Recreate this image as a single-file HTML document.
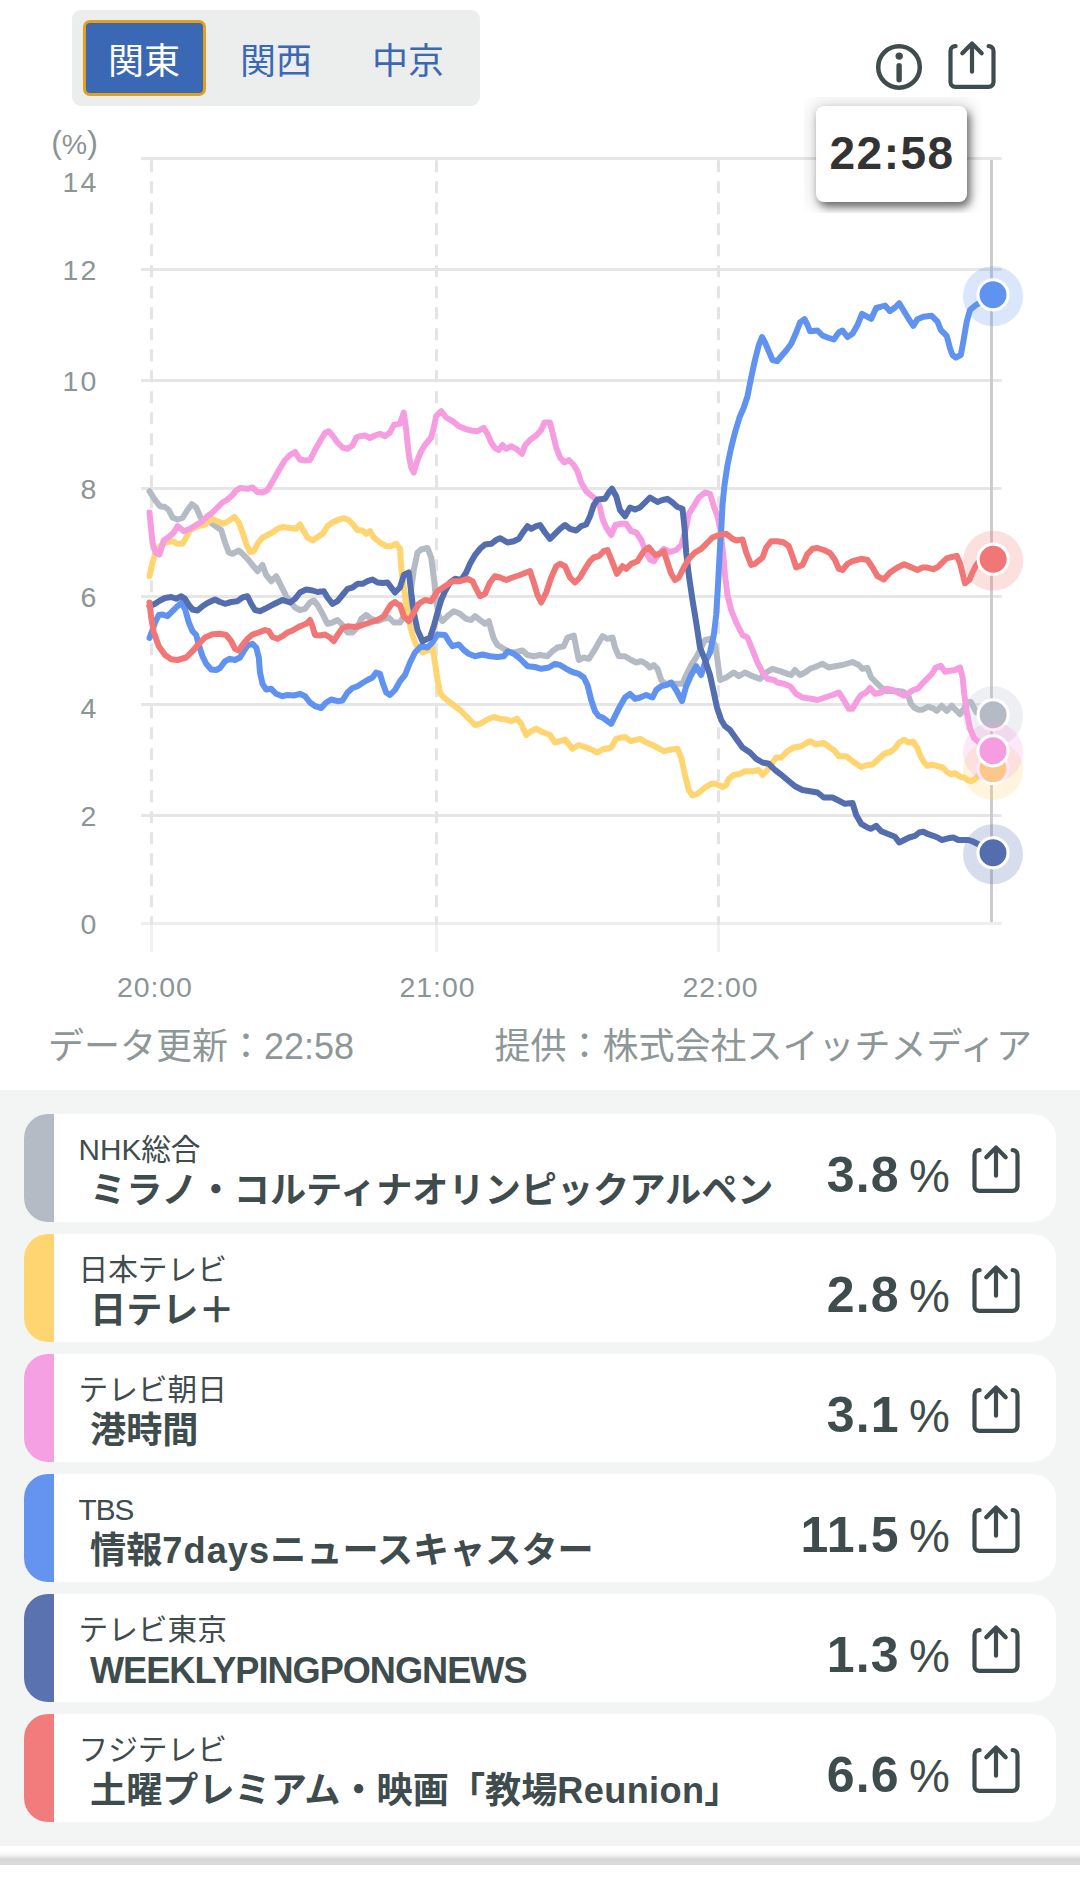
<!DOCTYPE html>
<html lang="ja"><head><meta charset="utf-8"><title>視聴率</title>
<style>
html,body{margin:0;padding:0;}
body{width:1080px;height:1896px;position:relative;overflow:hidden;background:#fff;font-family:"Liberation Sans", "Noto Sans CJK JP", sans-serif;color:#3f4c4d;}
.tabs{position:absolute;left:71.5px;top:10px;width:408px;height:96px;background:#eceeee;border-radius:9px;}
.tab{position:absolute;top:13px;height:69.8px;line-height:78.6px;font-size:36px;text-align:center;color:#3b68b5;width:123px;}
.tab.on{left:14px;width:117px;background:#3b68b5;color:#fff;border-radius:4px;box-shadow:0 0 0 3px #e3a01c;}
.chart{position:absolute;left:0;top:0;}
.ax{font-family:"Liberation Sans", "Noto Sans CJK JP", sans-serif;font-size:28.5px;fill:#8b9596;}
.tipwrap{position:absolute;left:803.5px;top:97px;width:178px;height:115.5px;overflow:hidden;}
.tip{position:absolute;left:12.6px;top:8.5px;width:150.5px;height:96.3px;border-radius:8px;background:#fff;box-shadow:3px 5px 8px rgba(0,0,0,.55),0 0 16px 6px rgba(0,0,0,.10);text-align:center;line-height:95.5px;font-size:46px;font-weight:bold;color:#333;letter-spacing:1.5px;text-indent:1.5px;}
.foot{position:absolute;top:1021.3px;font-size:36px;line-height:52px;color:#8d9797;white-space:nowrap;}
.list{position:absolute;left:0;top:1090px;width:1080px;height:755.5px;background:#f3f5f4;}
.card{position:absolute;left:24px;width:1032px;height:108px;background:#fff;border-radius:24px;overflow:hidden;}
.bar{position:absolute;left:0;top:0;width:30px;height:100%;}
.ch{position:absolute;left:54.5px;top:15.5px;font-size:29.7px;line-height:40px;white-space:nowrap;}
.ti{position:absolute;left:66px;top:53.2px;font-size:36.15px;line-height:48px;font-weight:bold;white-space:nowrap;}
.val{position:absolute;right:106px;top:28.5px;line-height:64px;white-space:nowrap;}
.val b{font-size:50px;letter-spacing:1.2px;}
.val span{font-size:46px;margin-left:-3.5px;}
.sh{position:absolute;left:943.9px;top:27.8px;}
.topsh{position:absolute;left:944px;top:38px;}
.info{position:absolute;left:874.1px;top:41.6px;}
.navline{position:absolute;left:0;top:1850px;width:1080px;height:15px;background:linear-gradient(#fff 0%,#f6f6f6 30%,#d4d4d4 64%,#dadada 76%,#dcdcdc 100%);}
</style></head><body>
<div class="tabs"><div class="tab on">関東</div><div class="tab" style="left:143px">関西</div><div class="tab" style="left:275px">中京</div></div>
<svg class="info" width="50" height="50" viewBox="0 0 50 50" fill="none" stroke="#3f4c4d" stroke-width="4.5" stroke-linecap="round"><circle cx="25" cy="25" r="20.8"/><path d="M25.1 23.8 V37.7" stroke-width="5.4"/><circle cx="25.2" cy="14.1" r="3.7" fill="#3f4c4d" stroke="none"/></svg>
<svg class="topsh" width="56" height="56" viewBox="0 0 56 56" fill="none" stroke="#3f4c4d" stroke-width="4.2" stroke-linecap="round" stroke-linejoin="round"><path d="M11.6 8.2 H11.3 A4.8 4.8 0 0 0 6.5 13 V44 A4.8 4.8 0 0 0 11.3 48.8 H44.7 A4.8 4.8 0 0 0 49.5 44 V13 A4.8 4.8 0 0 0 44.7 8.2 H44.6"/><path d="M28 33.7 V5.6 M18.3 15.2 L28 5.4 L37.7 15.2"/></svg>
<svg class="chart" width="1080" height="1080" viewBox="0 0 1080 1080">
<rect x="141" y="157.0" width="860.5" height="3" fill="#e6e6e6"/>
<rect x="141" y="268.0" width="860.5" height="3" fill="#e6e6e6"/>
<rect x="141" y="379.0" width="860.5" height="3" fill="#e6e6e6"/>
<rect x="141" y="487.0" width="860.5" height="3" fill="#e6e6e6"/>
<rect x="141" y="595.0" width="860.5" height="3" fill="#e6e6e6"/>
<rect x="141" y="703.0" width="860.5" height="3" fill="#e6e6e6"/>
<rect x="141" y="814.0" width="860.5" height="3" fill="#e6e6e6"/>
<rect x="141" y="922.0" width="860.5" height="3" fill="#eeeeee"/>
<rect x="150.0" y="925" width="3" height="27" fill="#f1f1f1"/>
<line x1="151.5" y1="160.2" x2="151.5" y2="925" stroke="#e4e4e4" stroke-width="3" stroke-dasharray="12 9"/>
<rect x="435.0" y="925" width="3" height="27" fill="#f1f1f1"/>
<line x1="436.5" y1="160.2" x2="436.5" y2="925" stroke="#e4e4e4" stroke-width="3" stroke-dasharray="12 9"/>
<rect x="717.0" y="925" width="3" height="27" fill="#f1f1f1"/>
<line x1="718.5" y1="160.2" x2="718.5" y2="925" stroke="#e4e4e4" stroke-width="3" stroke-dasharray="12 9"/>
<text x="74.5" y="153.9" class="ax" text-anchor="middle"><tspan font-size="32" dy="-1.2">(</tspan><tspan dy="1.2">%</tspan><tspan font-size="32" dy="-1.2">)</tspan></text>
<text x="98.5" y="192.4" class="ax" text-anchor="end" letter-spacing="2.2">14</text>
<text x="98.5" y="279.8" class="ax" text-anchor="end" letter-spacing="2.2">12</text>
<text x="98.5" y="390.9" class="ax" text-anchor="end" letter-spacing="2.2">10</text>
<text x="96.3" y="498.6" class="ax" text-anchor="end" letter-spacing="0">8</text>
<text x="96.3" y="607.1" class="ax" text-anchor="end" letter-spacing="0">6</text>
<text x="96.3" y="717.9" class="ax" text-anchor="end" letter-spacing="0">4</text>
<text x="96.3" y="826.2" class="ax" text-anchor="end" letter-spacing="0">2</text>
<text x="96.3" y="933.5" class="ax" text-anchor="end" letter-spacing="0">0</text>
<text x="154.8" y="996.8" class="ax" text-anchor="middle" letter-spacing="0.9">20:00</text>
<text x="437.5" y="996.8" class="ax" text-anchor="middle" letter-spacing="0.9">21:00</text>
<text x="720.5" y="996.8" class="ax" text-anchor="middle" letter-spacing="0.9">22:00</text>
<rect x="990.1" y="160" width="2.8" height="762" fill="#c9c9c9"/>
<circle cx="993.1" cy="716.3" r="30" fill="#B5BBC5" fill-opacity="0.23"/>
<path d="M149.5 491.2 L155.0 500.0 L160.0 506.2 L165.0 507.0 L168.8 510.0 L172.5 517.5 L177.5 519.5 L182.5 518.0 L187.5 510.0 L191.8 504.2 L196.2 507.5 L200.0 516.2 L203.8 522.5 L207.5 520.0 L212.5 523.8 L217.5 527.5 L221.2 530.0 L225.0 542.5 L228.8 552.5 L232.5 553.8 L238.8 550.5 L242.5 553.8 L247.5 558.8 L252.5 565.0 L257.5 571.2 L262.5 565.0 L266.2 575.0 L271.2 581.2 L276.2 576.2 L281.2 586.2 L286.2 596.2 L290.0 601.2 L295.0 607.5 L300.0 610.0 L305.0 608.8 L310.0 602.5 L313.8 600.5 L317.5 605.0 L322.5 613.8 L327.5 623.8 L332.5 622.5 L337.5 620.0 L342.5 625.0 L347.5 632.5 L352.5 632.5 L357.5 627.5 L361.2 618.8 L366.2 615.0 L371.2 618.8 L377.5 621.2 L383.8 618.8 L388.8 617.5 L393.8 622.5 L400.0 622.5 L405.0 615.0 L410.0 597.5 L413.8 570.0 L417.5 552.5 L421.2 549.5 L427.5 548.0 L431.2 557.5 L433.8 577.5 L436.2 600.0 L438.8 616.2 L442.5 621.2 L447.5 616.2 L453.8 611.2 L460.0 613.8 L466.2 618.8 L471.2 620.0 L475.0 616.2 L480.0 620.0 L485.0 623.8 L488.8 621.2 L491.2 630.0 L493.8 638.8 L497.5 645.0 L503.8 648.8 L510.0 652.5 L516.2 652.0 L522.5 650.5 L527.5 655.0 L533.8 656.2 L540.0 655.0 L547.5 656.2 L552.5 651.2 L557.5 647.5 L563.8 646.2 L567.5 637.5 L573.8 635.5 L576.2 647.5 L578.8 660.0 L583.8 657.5 L588.8 658.8 L593.8 651.2 L598.8 642.5 L602.5 636.2 L607.5 638.8 L612.5 637.5 L615.0 647.5 L618.8 656.2 L625.0 656.2 L631.2 660.0 L636.2 662.5 L641.2 661.2 L646.2 663.8 L650.0 667.5 L653.8 665.0 L657.5 668.8 L661.2 680.0 L665.0 683.8 L672.5 683.8 L682.5 683.8 L686.2 675.0 L691.2 665.0 L696.2 657.5 L701.2 647.5 L705.0 640.0 L710.0 638.8 L715.0 645.0 L717.5 660.0 L720.0 680.0 L726.2 677.5 L733.8 672.5 L738.8 676.2 L745.0 672.5 L752.5 676.2 L760.0 678.8 L766.2 672.5 L772.5 668.8 L780.0 671.2 L787.5 673.8 L791.2 675.0 L795.0 670.0 L800.0 675.0 L805.0 672.5 L810.0 668.8 L815.0 667.0 L822.5 663.8 L828.8 667.5 L835.0 666.2 L842.5 665.0 L852.5 662.0 L858.8 665.0 L862.5 668.8 L867.5 668.0 L871.2 677.5 L876.2 682.5 L881.2 687.5 L886.2 691.2 L895.8 690.8 L903.3 691.7 L908.3 695.8 L910.8 703.3 L914.2 707.5 L918.3 709.7 L922.5 709.7 L928.3 706.7 L933.3 708.3 L936.7 710.8 L941.7 705.8 L946.7 710.8 L951.7 705.8 L955.8 710.0 L960.0 714.2 L964.2 708.3 L966.7 702.5 L970.8 702.0 L974.2 708.3 L976.7 712.5 L980.0 714.2 L993.1 714.8" fill="none" stroke="#B5BBC5" stroke-width="6" stroke-linejoin="round" stroke-linecap="round"/>
<circle cx="993.1" cy="714.8" r="15.05" fill="#B5BBC5" stroke="#fff" stroke-width="3.1"/>
<circle cx="993.0" cy="770.1" r="30" fill="#FFD572" fill-opacity="0.23"/>
<path d="M149.5 576.2 L152.5 562.5 L155.5 552.5 L160.0 546.2 L165.0 542.5 L172.5 541.2 L177.5 543.8 L182.5 543.8 L186.2 537.5 L190.0 530.0 L197.5 526.2 L205.0 524.5 L211.2 518.8 L217.5 521.2 L223.8 523.8 L230.0 520.0 L234.5 517.0 L238.8 522.5 L242.5 532.5 L246.2 543.8 L250.0 552.0 L253.8 551.2 L257.5 543.8 L262.5 537.5 L267.5 535.0 L272.5 532.5 L277.5 528.8 L282.5 527.0 L290.0 528.0 L296.2 528.8 L300.0 524.5 L303.8 531.2 L307.5 537.5 L312.5 540.5 L318.8 536.2 L322.5 533.8 L327.5 526.2 L332.5 522.5 L337.5 520.0 L343.8 518.2 L348.8 520.0 L353.8 525.5 L357.5 530.0 L362.5 530.5 L366.2 533.8 L370.0 531.2 L373.8 537.5 L380.0 542.5 L386.2 546.2 L391.2 546.2 L396.2 543.8 L400.0 548.8 L401.2 567.5 L403.8 587.5 L406.2 605.0 L408.8 620.0 L412.5 635.0 L416.2 645.0 L422.5 652.5 L428.8 650.0 L432.5 647.5 L435.0 662.5 L437.5 680.0 L440.0 692.5 L442.5 696.2 L450.0 702.5 L460.0 710.0 L467.5 717.5 L475.0 725.0 L480.0 723.8 L487.5 719.5 L493.8 717.0 L500.0 718.8 L506.2 719.5 L511.2 721.2 L517.0 718.8 L521.2 723.8 L526.2 735.0 L531.2 731.2 L536.2 728.8 L542.5 732.0 L550.0 735.0 L555.0 742.5 L560.0 741.2 L565.0 739.5 L572.5 748.8 L578.8 745.0 L586.2 747.5 L592.5 750.0 L597.5 752.5 L602.5 749.5 L611.2 747.5 L616.2 738.8 L625.0 737.0 L631.2 741.2 L640.0 738.8 L646.2 742.5 L652.5 745.0 L663.8 751.2 L671.2 749.5 L677.5 748.8 L681.2 757.5 L685.0 775.0 L688.8 790.0 L692.5 795.5 L697.5 793.8 L705.0 787.5 L711.2 783.8 L716.2 783.8 L722.5 787.0 L726.2 785.0 L728.8 778.8 L733.8 775.0 L740.0 773.8 L745.0 771.2 L752.5 771.2 L758.8 770.0 L762.5 775.0 L767.5 770.0 L772.5 762.5 L776.2 757.5 L781.2 757.5 L787.5 751.2 L793.8 747.5 L801.2 746.2 L810.0 741.2 L816.2 744.5 L823.8 743.0 L830.0 747.5 L835.0 751.2 L838.8 756.2 L846.2 756.2 L852.5 761.2 L861.2 767.0 L867.5 765.0 L872.5 764.5 L877.5 760.0 L885.0 753.3 L890.0 752.0 L895.0 748.3 L899.2 742.5 L904.2 739.7 L908.3 742.5 L913.3 741.7 L917.5 748.3 L920.8 756.7 L924.2 762.5 L927.5 765.8 L931.7 764.7 L936.7 765.8 L942.5 767.5 L946.7 771.7 L950.8 774.2 L955.0 773.3 L960.0 776.7 L964.2 777.5 L967.5 780.0 L970.8 781.3 L975.0 779.2 L978.3 775.8 L993.0 768.6" fill="none" stroke="#FFD572" stroke-width="6" stroke-linejoin="round" stroke-linecap="round"/>
<circle cx="993.0" cy="768.6" r="15.05" fill="#FFD572" stroke="#fff" stroke-width="3.1"/>
<circle cx="993.0" cy="752.3" r="30" fill="#F69DE2" fill-opacity="0.23"/>
<path d="M149.5 512.5 L152.5 542.5 L155.5 552.5 L159.5 554.5 L163.8 540.5 L168.8 537.0 L173.8 532.5 L177.5 526.2 L183.8 531.2 L190.0 528.8 L196.2 525.0 L202.5 521.2 L207.5 516.2 L212.5 512.5 L217.5 507.5 L222.5 502.5 L227.5 499.5 L232.5 495.0 L236.2 490.5 L240.0 488.0 L247.5 488.8 L252.5 487.5 L257.5 492.0 L262.5 492.5 L267.5 490.0 L271.2 483.8 L276.2 475.0 L281.2 466.2 L285.0 460.0 L290.0 455.0 L295.0 452.0 L300.0 459.5 L305.0 460.5 L310.0 460.0 L315.0 450.0 L320.0 441.2 L325.0 433.0 L328.8 431.2 L332.5 435.5 L337.5 442.5 L342.5 447.5 L347.5 448.8 L352.5 445.5 L356.2 437.5 L360.0 436.2 L365.0 435.5 L370.0 438.0 L375.0 435.5 L380.0 433.8 L385.0 436.2 L390.0 432.5 L393.8 425.0 L398.8 423.8 L400.0 423.8 L403.8 412.5 L406.2 430.0 L408.8 455.0 L411.2 467.5 L413.8 472.5 L417.5 460.0 L421.2 451.2 L425.0 445.0 L431.2 437.5 L433.8 427.5 L436.2 416.2 L441.2 411.2 L446.2 417.5 L452.5 421.2 L458.8 426.2 L465.0 428.8 L471.2 430.5 L477.5 431.2 L483.8 428.0 L487.5 433.8 L491.2 442.5 L495.0 448.0 L498.8 450.0 L502.5 445.0 L506.2 448.8 L511.2 446.2 L516.2 448.8 L522.0 453.8 L525.0 445.5 L530.0 440.0 L536.2 435.5 L541.2 430.0 L544.5 422.5 L550.0 422.5 L552.5 432.5 L556.2 447.5 L560.0 457.5 L564.5 462.5 L568.8 460.0 L573.8 465.0 L577.5 471.2 L581.2 482.5 L586.2 491.2 L591.2 495.5 L596.2 499.5 L600.0 507.5 L602.5 518.8 L606.2 527.5 L611.2 535.0 L615.5 525.0 L621.2 523.8 L626.2 523.8 L631.2 531.2 L636.2 532.5 L641.2 540.0 L646.2 552.5 L650.0 559.5 L653.8 561.2 L658.8 553.8 L663.8 548.8 L670.0 552.0 L676.2 550.0 L681.2 545.0 L685.0 532.5 L688.8 513.8 L693.8 506.2 L698.8 497.5 L705.0 492.5 L710.0 493.8 L713.8 506.2 L717.5 516.2 L720.5 530.0 L723.0 552.5 L725.0 575.0 L727.5 595.0 L731.2 610.0 L736.2 622.5 L742.5 635.0 L747.5 637.5 L752.5 650.0 L757.5 662.5 L762.5 672.5 L767.5 678.8 L773.8 680.0 L777.5 682.5 L783.8 683.8 L790.0 686.2 L796.2 693.8 L802.5 697.5 L811.2 698.8 L817.5 700.0 L825.0 697.5 L832.5 695.0 L838.8 692.5 L843.8 700.0 L848.8 708.8 L852.5 708.8 L857.5 700.0 L861.2 695.0 L866.2 692.5 L870.0 688.0 L875.0 693.8 L881.2 692.5 L886.2 688.8 L892.5 690.0 L900.0 693.8 L904.2 695.8 L908.3 693.3 L913.3 690.0 L918.3 688.3 L922.5 683.3 L926.7 679.2 L931.7 674.2 L935.8 667.5 L940.8 665.8 L945.0 671.7 L950.0 670.8 L955.0 670.0 L960.0 667.5 L962.5 676.7 L964.2 693.3 L966.7 711.7 L970.0 728.3 L974.2 738.3 L980.0 743.3 L993.0 750.8" fill="none" stroke="#F69DE2" stroke-width="6" stroke-linejoin="round" stroke-linecap="round"/>
<circle cx="993.0" cy="750.8" r="15.05" fill="#F69DE2" stroke="#fff" stroke-width="3.1"/>
<circle cx="993.0" cy="296.3" r="30" fill="#6092EF" fill-opacity="0.23"/>
<path d="M149.5 638.0 L152.5 630.0 L155.0 622.5 L158.8 615.0 L162.5 614.5 L167.5 616.2 L172.5 611.2 L177.5 606.2 L181.2 603.0 L185.0 608.8 L188.8 622.5 L192.5 631.2 L196.2 635.0 L198.8 645.0 L202.5 656.2 L206.2 663.8 L211.2 669.5 L216.2 670.0 L220.0 668.0 L225.0 661.2 L230.0 658.8 L235.0 660.0 L240.0 657.5 L243.8 651.2 L247.5 645.5 L252.5 643.8 L256.2 647.5 L258.8 657.5 L260.0 672.5 L262.5 683.8 L266.2 689.5 L271.2 688.8 L276.2 693.8 L282.5 696.2 L287.5 695.0 L293.8 695.5 L300.0 693.8 L305.0 696.2 L310.0 702.5 L315.0 706.2 L321.2 708.0 L326.2 702.5 L331.2 699.5 L337.5 701.2 L342.5 700.5 L347.5 692.5 L352.5 688.0 L357.5 686.2 L362.5 683.0 L367.5 680.0 L372.5 677.5 L376.2 672.5 L380.0 673.8 L382.5 682.5 L386.2 692.5 L390.0 695.0 L395.0 690.0 L400.0 681.2 L405.0 675.0 L410.0 662.5 L415.0 652.5 L421.2 646.2 L427.5 647.5 L432.5 642.5 L437.5 634.5 L445.0 635.0 L448.8 641.2 L452.5 646.2 L458.8 644.5 L463.8 650.0 L468.8 653.8 L475.0 656.2 L482.5 654.5 L490.0 656.2 L497.5 657.0 L503.8 656.2 L508.0 651.2 L513.8 653.8 L518.8 657.5 L523.8 662.5 L527.5 666.2 L535.0 667.0 L541.2 668.8 L548.8 667.5 L555.0 663.8 L560.0 665.0 L566.2 668.8 L572.5 672.0 L578.8 673.8 L583.8 677.5 L587.5 685.0 L591.2 700.0 L595.0 711.2 L598.8 716.2 L602.5 717.5 L607.5 721.2 L611.2 723.8 L615.0 716.2 L620.0 706.2 L625.0 697.5 L630.0 693.8 L635.0 698.8 L640.0 697.5 L646.2 695.0 L652.5 697.5 L656.2 690.0 L661.2 686.2 L666.2 685.0 L671.2 682.5 L676.2 690.0 L682.0 701.2 L686.2 686.2 L691.2 675.0 L696.2 666.2 L701.2 675.0 L705.0 662.5 L710.0 652.5 L713.8 635.0 L716.2 615.0 L718.0 585.0 L720.0 547.5 L721.2 530.0 L722.5 505.0 L724.5 485.0 L727.5 465.0 L731.2 447.5 L735.0 432.5 L739.5 417.5 L743.8 407.5 L747.5 396.2 L751.2 377.5 L755.0 360.0 L758.8 345.0 L762.0 337.0 L765.0 342.5 L768.8 351.2 L772.5 360.0 L777.0 361.2 L781.2 356.2 L786.2 350.5 L791.2 343.8 L796.2 332.5 L800.0 322.5 L804.5 319.2 L807.5 325.0 L810.0 331.2 L817.5 330.5 L822.5 335.5 L827.5 337.5 L833.8 339.5 L838.8 332.5 L842.5 330.5 L847.5 337.0 L852.5 333.8 L857.5 325.0 L862.0 313.8 L866.2 316.2 L871.2 318.8 L876.2 308.0 L880.0 307.0 L885.0 305.5 L890.0 311.2 L895.0 307.5 L899.2 303.3 L903.3 310.0 L908.3 318.3 L913.3 325.8 L917.5 319.2 L923.3 316.7 L931.7 315.8 L937.5 321.7 L940.8 330.0 L946.7 335.8 L950.0 348.3 L952.5 355.0 L955.8 357.5 L960.8 355.0 L963.3 341.7 L966.7 321.7 L970.0 310.0 L975.0 305.8 L980.0 302.5 L993.0 294.8" fill="none" stroke="#6092EF" stroke-width="6" stroke-linejoin="round" stroke-linecap="round"/>
<circle cx="993.0" cy="294.8" r="15.05" fill="#6092EF" stroke="#fff" stroke-width="3.1"/>
<circle cx="993.0" cy="854.3" r="30" fill="#536DAE" fill-opacity="0.23"/>
<path d="M149.5 606.2 L155.0 603.8 L160.0 600.5 L165.0 598.0 L171.2 597.0 L176.2 598.8 L181.2 596.2 L185.0 598.8 L188.8 605.0 L192.5 609.5 L197.5 610.5 L202.5 606.2 L207.5 603.0 L215.0 599.5 L220.0 602.0 L225.0 603.8 L231.2 602.0 L237.5 601.2 L242.5 597.5 L247.5 596.2 L251.2 603.8 L255.0 610.0 L260.0 611.2 L265.0 608.8 L270.0 606.2 L276.2 603.0 L282.5 600.0 L290.0 602.5 L295.0 598.8 L300.0 592.5 L306.2 589.5 L312.5 590.5 L317.5 592.0 L323.8 591.2 L327.5 597.5 L332.5 603.8 L337.5 601.2 L342.5 595.0 L347.5 588.8 L352.5 587.5 L357.5 583.8 L362.5 583.8 L367.5 581.2 L372.5 579.5 L377.5 582.5 L382.5 583.0 L387.5 582.5 L391.2 587.5 L395.0 592.5 L400.0 587.5 L403.8 575.0 L408.8 572.5 L411.2 592.5 L413.8 612.5 L417.5 630.0 L422.5 641.2 L430.0 637.5 L433.8 626.2 L437.5 612.5 L441.2 600.0 L445.0 591.2 L450.0 582.5 L455.0 578.8 L461.2 580.0 L466.2 572.5 L470.0 563.8 L475.0 555.0 L480.0 548.8 L485.0 544.5 L491.2 543.8 L496.2 540.0 L500.0 538.2 L507.5 542.5 L513.8 541.2 L518.8 538.8 L523.8 531.2 L527.5 526.2 L531.2 528.8 L536.2 526.2 L540.0 525.0 L545.0 532.5 L550.0 538.8 L555.0 533.8 L560.0 528.8 L565.0 525.0 L570.0 528.8 L576.2 530.5 L581.2 526.2 L586.2 524.5 L590.0 516.2 L593.8 505.0 L597.5 499.5 L605.0 498.8 L608.8 492.5 L612.0 488.8 L616.2 496.2 L620.0 510.0 L625.0 516.2 L630.0 507.5 L635.0 509.5 L640.0 507.5 L645.0 502.5 L650.0 497.5 L657.5 502.0 L662.5 500.0 L667.5 498.8 L672.5 502.5 L677.5 507.0 L682.5 508.8 L684.5 527.5 L686.2 552.5 L688.8 575.0 L692.5 600.0 L696.2 622.5 L700.0 647.5 L705.0 660.0 L710.0 675.0 L713.8 692.5 L717.0 707.5 L721.2 720.0 L725.0 726.2 L730.0 730.0 L736.2 738.8 L742.5 747.5 L750.0 752.5 L756.2 758.8 L762.5 762.5 L768.8 763.8 L775.0 770.0 L780.0 773.8 L787.5 780.0 L795.0 786.2 L802.5 790.0 L810.0 791.2 L817.5 792.5 L823.8 797.5 L832.5 797.5 L840.0 801.2 L845.0 803.8 L852.5 803.0 L856.2 815.0 L861.2 823.8 L867.5 827.5 L871.2 828.8 L876.2 825.8 L881.2 831.2 L887.5 833.8 L895.0 836.7 L899.2 842.5 L904.2 840.0 L909.2 837.5 L915.0 835.8 L919.2 832.5 L923.3 831.7 L928.3 834.2 L933.3 835.8 L937.5 837.5 L941.7 840.0 L948.3 838.3 L953.3 837.5 L958.3 840.0 L963.3 840.0 L968.3 840.0 L973.3 841.7 L978.3 844.2 L981.7 847.5 L993.0 852.8" fill="none" stroke="#536DAE" stroke-width="6" stroke-linejoin="round" stroke-linecap="round"/>
<circle cx="993.0" cy="852.8" r="15.05" fill="#536DAE" stroke="#fff" stroke-width="3.1"/>
<circle cx="993.2" cy="560.7" r="30" fill="#F17676" fill-opacity="0.23"/>
<path d="M149.5 602.5 L151.2 617.5 L153.8 632.5 L158.8 646.2 L165.0 655.0 L171.2 659.2 L177.5 660.0 L186.2 657.5 L192.5 651.2 L198.8 643.8 L205.0 637.5 L212.5 634.2 L220.0 633.8 L226.2 635.0 L231.2 641.2 L235.0 648.8 L238.8 650.5 L242.5 645.0 L247.5 638.8 L252.5 634.5 L258.8 632.5 L265.0 630.0 L268.8 631.2 L272.5 637.0 L277.5 638.8 L282.5 636.2 L287.5 632.5 L292.5 630.5 L300.0 626.2 L306.2 623.8 L310.0 620.0 L312.5 626.2 L315.0 635.0 L320.0 635.5 L325.0 634.5 L330.0 637.5 L333.8 641.2 L337.5 635.0 L342.5 628.0 L347.5 626.2 L355.0 627.0 L362.5 625.0 L370.0 622.5 L377.5 620.0 L383.8 616.2 L387.5 610.0 L391.2 604.5 L395.0 602.0 L398.8 605.0 L400.0 605.0 L403.8 616.2 L408.8 621.2 L413.8 612.5 L418.8 603.8 L425.0 600.0 L431.2 601.2 L437.5 591.2 L445.0 586.2 L452.5 581.2 L460.0 581.2 L467.5 578.8 L472.5 581.2 L476.2 588.8 L480.0 596.2 L485.0 593.8 L490.0 582.5 L495.0 576.2 L500.0 577.5 L506.2 580.0 L512.5 577.5 L520.0 575.0 L526.2 572.5 L530.0 571.2 L533.8 582.5 L537.5 595.0 L541.2 602.5 L546.2 592.5 L551.2 577.5 L556.2 566.2 L560.0 563.8 L565.0 566.2 L570.0 577.5 L575.0 582.5 L580.0 577.5 L585.0 568.8 L590.0 561.2 L593.8 557.5 L598.8 556.2 L603.8 551.2 L607.5 550.0 L612.5 562.5 L617.0 573.8 L622.5 566.2 L626.2 568.8 L631.2 563.8 L637.5 561.2 L643.8 551.2 L648.8 547.5 L655.0 555.0 L660.0 553.8 L663.8 551.2 L667.5 562.5 L671.2 573.8 L675.0 580.0 L678.8 577.5 L683.8 567.5 L688.8 558.8 L695.0 552.5 L701.2 548.8 L706.2 543.8 L712.5 537.5 L718.8 535.0 L726.2 533.8 L732.5 538.8 L736.2 540.5 L742.5 539.5 L746.2 552.5 L751.2 565.0 L755.0 563.8 L762.5 557.5 L766.2 547.5 L771.2 541.2 L777.5 541.2 L783.8 542.5 L788.8 546.2 L792.5 556.2 L796.2 567.5 L802.5 565.0 L807.5 553.8 L812.5 548.8 L817.5 548.0 L823.8 550.0 L830.0 553.0 L835.0 560.0 L838.8 568.8 L842.5 570.0 L847.5 563.8 L852.5 561.2 L861.2 558.8 L867.5 560.0 L872.5 567.5 L877.5 576.2 L883.8 579.5 L890.0 572.5 L897.5 567.5 L904.2 564.2 L910.0 566.7 L917.5 570.0 L922.5 567.5 L926.7 567.5 L933.3 569.2 L938.3 566.7 L943.3 561.7 L946.7 558.3 L951.7 557.0 L956.7 555.8 L960.0 563.3 L962.5 573.3 L965.0 583.3 L969.2 580.0 L972.5 572.5 L975.8 565.8 L978.3 562.5 L993.2 559.2" fill="none" stroke="#F17676" stroke-width="6" stroke-linejoin="round" stroke-linecap="round"/>
<circle cx="993.2" cy="559.2" r="15.05" fill="#F17676" stroke="#fff" stroke-width="3.1"/>
</svg>
<div class="tipwrap"><div class="tip">22:58</div></div>
<div class="foot" style="left:48px">データ更新：22:58</div>
<div class="foot" style="right:48px">提供：株式会社スイッチメディア</div>
<div class="list">
</div>
<div class="card" style="top:1114px"><div class="bar" style="background:#B5BBC5"></div><div class="ch">NHK総合</div><div class="ti">ミラノ・コルティナオリンピックアルペン</div><div class="val"><b>3.8</b><span> %</span></div><svg class="sh" width="56" height="56" viewBox="0 0 56 56" fill="none" stroke="#3f4c4d" stroke-width="4.2" stroke-linecap="round" stroke-linejoin="round"><path d="M11.6 8.2 H11.3 A4.8 4.8 0 0 0 6.5 13 V44 A4.8 4.8 0 0 0 11.3 48.8 H44.7 A4.8 4.8 0 0 0 49.5 44 V13 A4.8 4.8 0 0 0 44.7 8.2 H44.6"/><path d="M28 33.7 V5.6 M18.3 15.2 L28 5.4 L37.7 15.2"/></svg></div>
<div class="card" style="top:1234px"><div class="bar" style="background:#FFD572"></div><div class="ch">日本テレビ</div><div class="ti">日テレ＋</div><div class="val"><b>2.8</b><span> %</span></div><svg class="sh" width="56" height="56" viewBox="0 0 56 56" fill="none" stroke="#3f4c4d" stroke-width="4.2" stroke-linecap="round" stroke-linejoin="round"><path d="M11.6 8.2 H11.3 A4.8 4.8 0 0 0 6.5 13 V44 A4.8 4.8 0 0 0 11.3 48.8 H44.7 A4.8 4.8 0 0 0 49.5 44 V13 A4.8 4.8 0 0 0 44.7 8.2 H44.6"/><path d="M28 33.7 V5.6 M18.3 15.2 L28 5.4 L37.7 15.2"/></svg></div>
<div class="card" style="top:1354px"><div class="bar" style="background:#F5A0E3"></div><div class="ch">テレビ朝日</div><div class="ti">港時間</div><div class="val"><b>3.1</b><span> %</span></div><svg class="sh" width="56" height="56" viewBox="0 0 56 56" fill="none" stroke="#3f4c4d" stroke-width="4.2" stroke-linecap="round" stroke-linejoin="round"><path d="M11.6 8.2 H11.3 A4.8 4.8 0 0 0 6.5 13 V44 A4.8 4.8 0 0 0 11.3 48.8 H44.7 A4.8 4.8 0 0 0 49.5 44 V13 A4.8 4.8 0 0 0 44.7 8.2 H44.6"/><path d="M28 33.7 V5.6 M18.3 15.2 L28 5.4 L37.7 15.2"/></svg></div>
<div class="card" style="top:1474px"><div class="bar" style="background:#6494EF"></div><div class="ch"><span style="letter-spacing:-1px">TBS</span></div><div class="ti">情報<span style="letter-spacing:1.1px">7days</span>ニュースキャスター</div><div class="val"><b>11.5</b><span> %</span></div><svg class="sh" width="56" height="56" viewBox="0 0 56 56" fill="none" stroke="#3f4c4d" stroke-width="4.2" stroke-linecap="round" stroke-linejoin="round"><path d="M11.6 8.2 H11.3 A4.8 4.8 0 0 0 6.5 13 V44 A4.8 4.8 0 0 0 11.3 48.8 H44.7 A4.8 4.8 0 0 0 49.5 44 V13 A4.8 4.8 0 0 0 44.7 8.2 H44.6"/><path d="M28 33.7 V5.6 M18.3 15.2 L28 5.4 L37.7 15.2"/></svg></div>
<div class="card" style="top:1594px"><div class="bar" style="background:#5B72B1"></div><div class="ch">テレビ東京</div><div class="ti"><span style="letter-spacing:-1px">WEEKLYPINGPONGNEWS</span></div><div class="val"><b>1.3</b><span> %</span></div><svg class="sh" width="56" height="56" viewBox="0 0 56 56" fill="none" stroke="#3f4c4d" stroke-width="4.2" stroke-linecap="round" stroke-linejoin="round"><path d="M11.6 8.2 H11.3 A4.8 4.8 0 0 0 6.5 13 V44 A4.8 4.8 0 0 0 11.3 48.8 H44.7 A4.8 4.8 0 0 0 49.5 44 V13 A4.8 4.8 0 0 0 44.7 8.2 H44.6"/><path d="M28 33.7 V5.6 M18.3 15.2 L28 5.4 L37.7 15.2"/></svg></div>
<div class="card" style="top:1714px"><div class="bar" style="background:#F27C7B"></div><div class="ch">フジテレビ</div><div class="ti">土曜プレミアム・映画「教場<span style="letter-spacing:.35px">Reunion</span>」</div><div class="val"><b>6.6</b><span> %</span></div><svg class="sh" width="56" height="56" viewBox="0 0 56 56" fill="none" stroke="#3f4c4d" stroke-width="4.2" stroke-linecap="round" stroke-linejoin="round"><path d="M11.6 8.2 H11.3 A4.8 4.8 0 0 0 6.5 13 V44 A4.8 4.8 0 0 0 11.3 48.8 H44.7 A4.8 4.8 0 0 0 49.5 44 V13 A4.8 4.8 0 0 0 44.7 8.2 H44.6"/><path d="M28 33.7 V5.6 M18.3 15.2 L28 5.4 L37.7 15.2"/></svg></div>
<div class="navline"></div>
</body></html>
